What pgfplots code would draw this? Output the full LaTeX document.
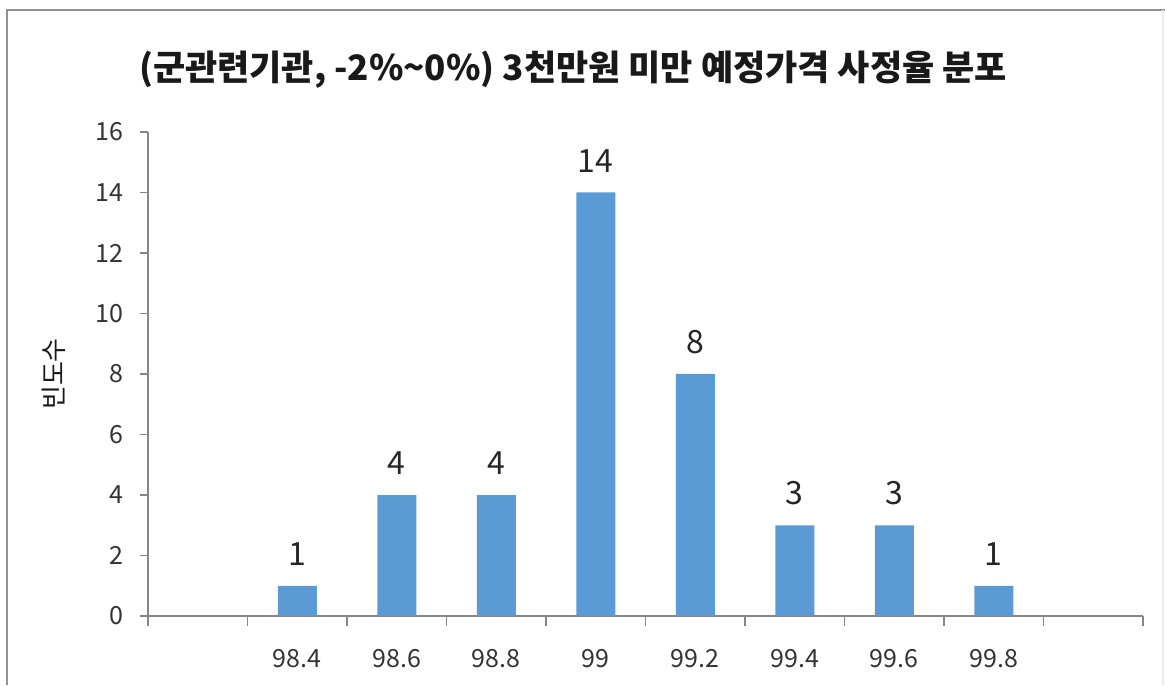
\documentclass[border=0pt]{standalone}
\usepackage{fontspec}
\setmainfont{Noto Sans CJK KR}
\usepackage{pgfplots}
\pgfplotsset{compat=1.18}
\definecolor{barblue}{HTML}{5B9BD5}
\definecolor{axisgray}{HTML}{868686}
\begin{document}
\begin{tikzpicture}[x=1pt,y=1pt]
\useasboundingbox (0,0) rectangle (582.5,342.5);
\draw[color=axisgray!90,line width=1pt] (3.5,0) -- (3.5,337.25) -- (582.5,337.25);
\draw[color=gray!15,line width=0.8pt] (581.5,0) -- (581.5,337.25);
\begin{axis}[
  at={(74pt,34.5pt)}, anchor=south west,
  scale only axis, width=497.5pt, height=242pt,
  xmin=-0.5, xmax=9.5, ymin=0, ymax=16,
  axis x line*=bottom, axis y line*=left,
  axis line style={draw=axisgray, line width=0.8pt, -},
  ybar, bar width=19.5pt,
  xtick={1,2,3,4,5,6,7,8},
  xticklabels={98.4,98.6,98.8,99,99.2,99.4,99.6,99.8},
  major x tick style={draw=none},
  minor xtick={-0.5,0.5,...,9.5},
  minor x tick style={draw=axisgray, line width=0.8pt},
  ytick={0,2,...,16},
  y tick style={draw=axisgray, line width=0.8pt},
  tick align=outside,
  major tick length=4pt, minor tick length=5pt,
  /pgf/number format/assume math mode=true,
  ticklabel style={font=\fontsize{12.5}{14}\selectfont, text=black!80},
  xticklabel style={yshift=-9pt},
  yticklabel style={xshift=-5pt},
  nodes near coords,
  every node near coord/.append style={font=\fontsize{16}{18}\selectfont, text=black!85, yshift=6.5pt},
]
\addplot[fill=barblue, draw=none] coordinates {(1,1) (2,4) (3,4) (4,14) (5,8) (6,3) (7,3) (8,1)};
\end{axis}
\node[font=\fontsize{17.5}{20}\bfseries, text=black!90] at (286.5,307.5) {(군관련기관, -2\%\textasciitilde0\%) 3천만원 미만 예정가격 사정율 분포};
\node[font=\fontsize{13}{15}\selectfont, rotate=90, text=black!90] at (27,155.5) {빈도수};
\end{tikzpicture}
\end{document}
